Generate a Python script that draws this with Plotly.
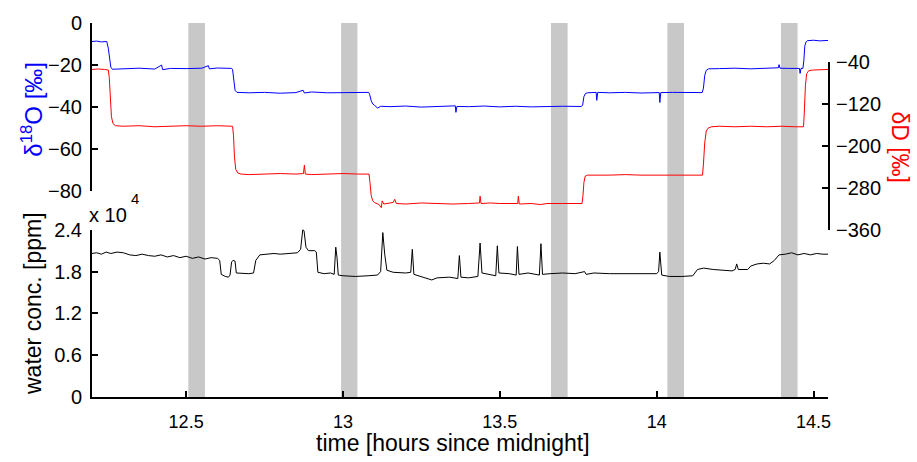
import plotly.graph_objects as go

# ---------------- data ----------------
t_o18 = [12.200, 12.215, 12.230, 12.247, 12.252, 12.256, 12.260, 12.265,
         12.30, 12.35, 12.40, 12.422, 12.425, 12.45, 12.50, 12.55, 12.571, 12.574, 12.60, 12.645,
         12.648, 12.652, 12.656, 12.662,
         12.70, 12.75, 12.80, 12.85, 12.873, 12.877, 12.90, 12.95, 13.00, 13.05, 13.082,
         13.085, 13.090, 13.095, 13.100, 13.110, 13.120,
         13.15, 13.20, 13.25, 13.30, 13.358, 13.360, 13.363, 13.40, 13.45, 13.50, 13.55, 13.60, 13.65, 13.70, 13.760,
         13.764, 13.768, 13.773, 13.780,
         13.807, 13.809, 13.812, 13.85, 13.90, 13.95, 14.008, 14.010, 14.013, 14.05, 14.10, 14.145,
         14.149, 14.153, 14.158, 14.165,
         14.20, 14.25, 14.30, 14.35, 14.388, 14.390, 14.393, 14.42, 14.455, 14.457, 14.460, 14.466,
         14.469, 14.472, 14.476, 14.480,
         14.50, 14.52, 14.546]
d18o = [-8.8, -8.6, -9.0, -8.8, -12.0, -18.0, -21.0, -22.0,
        -21.8, -21.5, -21.9, -20.0, -22.2, -21.6, -21.7, -21.5, -20.3, -21.8, -21.4, -21.6,
        -22.0, -28.0, -32.0, -33.0,
        -33.2, -33.0, -33.4, -33.1, -32.0, -33.3, -32.8, -33.2, -33.0, -33.1, -33.0,
        -34.0, -37.0, -38.5, -39.0, -40.5, -39.6,
        -39.8, -39.5, -40.0, -39.6, -39.4, -42.5, -39.7, -39.8, -39.5, -39.9, -39.6, -39.9, -39.7, -39.6, -39.7,
        -39.0, -35.0, -33.5, -33.2,
        -33.0, -36.8, -33.0, -33.2, -33.0, -33.3, -33.1, -37.8, -33.1, -33.0, -33.2, -33.1,
        -31.0, -25.0, -22.5, -21.8,
        -21.7, -21.5, -21.8, -21.4, -21.3, -19.8, -21.5, -21.6, -21.6, -24.0, -21.6, -21.6,
        -18.0, -11.0, -9.0, -8.4,
        -8.2, -8.5, -8.3]

t_dD = [12.200, 12.220, 12.240, 12.252, 12.255, 12.258, 12.262, 12.267, 12.275,
        12.30, 12.35, 12.40, 12.45, 12.50, 12.55, 12.60, 12.648,
        12.651, 12.654, 12.658, 12.665, 12.675,
        12.70, 12.75, 12.80, 12.85, 12.874, 12.877, 12.880, 12.90, 12.95, 13.00, 13.05, 13.083,
        13.086, 13.090, 13.095, 13.100, 13.115, 13.122, 13.125, 13.130,
        13.160, 13.165, 13.170, 13.20, 13.25, 13.30, 13.35, 13.40, 13.435, 13.437, 13.440, 13.47, 13.50,
        13.557, 13.559, 13.562, 13.60, 13.63, 13.65, 13.70, 13.762,
        13.765, 13.768, 13.772, 13.780,
        13.85, 13.90, 13.95, 14.00, 14.05, 14.10, 14.146,
        14.149, 14.153, 14.158, 14.165, 14.175,
        14.20, 14.25, 14.30, 14.35, 14.40, 14.44, 14.468,
        14.471, 14.474, 14.478, 14.485,
        14.50, 14.546]
dD = [-55, -54, -55, -56, -70, -110, -145, -158, -162,
      -163, -162, -164, -163, -162, -163, -162, -163,
      -180, -220, -245, -252, -254,
      -255, -254, -253, -254, -253, -237, -254, -255, -254, -253, -254, -254,
      -270, -295, -305, -308, -312, -318, -305, -311,
      -308, -302, -310, -311, -309, -310, -311, -310, -309, -296, -310, -309, -310,
      -310, -296, -311, -310, -312, -310, -310, -310,
      -295, -270, -258, -256,
      -256, -255, -256, -256, -255, -256, -256,
      -235, -195, -172, -166, -164,
      -163, -164, -163, -164, -163, -164, -164,
      -130, -85, -63, -57,
      -56, -55]

t_w = [12.200, 12.215, 12.230, 12.245, 12.26, 12.28, 12.30, 12.32, 12.34, 12.36, 12.38, 12.40,
       12.42, 12.44, 12.46, 12.48, 12.50, 12.52, 12.54, 12.56, 12.58, 12.600, 12.607, 12.612,
       12.625, 12.635, 12.640, 12.645, 12.650, 12.656, 12.660, 12.68, 12.70, 12.715, 12.722,
       12.735, 12.75, 12.78, 12.80, 12.83, 12.855, 12.865, 12.872, 12.876, 12.882, 12.89, 12.91,
       12.915, 12.920, 12.94, 12.96, 12.972, 12.977, 12.981, 12.985, 13.00, 13.04, 13.08, 13.11,
       13.120, 13.127, 13.133, 13.14, 13.16, 13.20, 13.216, 13.221, 13.226, 13.25, 13.283, 13.30,
       13.34, 13.366, 13.371, 13.376, 13.40, 13.43, 13.437, 13.443, 13.47, 13.487, 13.492, 13.497,
       13.53, 13.552, 13.556, 13.561, 13.59, 13.626, 13.631, 13.636, 13.66, 13.70, 13.74, 13.77,
       13.775, 13.80, 13.85, 13.90, 13.95, 14.00, 14.006, 14.010, 14.016, 14.04, 14.08, 14.115,
       14.13, 14.15, 14.18, 14.21, 14.24, 14.250, 14.255, 14.260, 14.29, 14.30, 14.32, 14.34,
       14.36, 14.375, 14.39, 14.41, 14.43, 14.45, 14.47, 14.49, 14.51, 14.53, 14.546]
water = [20600, 20700, 20500, 20800, 20600, 20800, 20700, 20400, 20300, 20500, 20300, 20200,
         20400, 20100, 20300, 20000, 20200, 19900, 20100, 19800, 20000, 19900, 19600, 17600,
         17300, 17200, 17500, 19400, 19600, 19500, 17800, 17700, 17700, 17800, 19600,
         20400, 20500, 20600, 20500, 20600, 20700, 21200, 24100, 23800, 21500, 21000, 21000,
         20800, 17900, 17700, 17800, 17600, 21500, 20000, 17500, 17400, 17300, 17400, 17500,
         18000, 23600, 20500, 18200, 17900, 17800, 17900, 21200, 17600, 17300, 16800, 17100,
         17200, 17000, 20300, 17200, 17100, 17300, 22100, 17800, 17600, 17400, 21700, 17800,
         17700, 17500, 21600, 17600, 17800, 17500, 22000, 17600, 17700, 17800, 17700, 18000,
         17600, 17800, 17700, 17700, 17700, 17700, 18000, 20800, 17500, 17300, 17300, 17400,
         18300, 18500, 18300, 18200, 18100, 18300, 19100, 18300, 18300, 18800, 19100, 19200,
         19100, 19600, 20400, 20500, 20700, 20400, 20600, 20400, 20600, 20500, 20500]

band_start = [12.507, 12.994, 13.663, 14.034, 14.396]
band_end = [12.560, 13.046, 13.716, 14.087, 14.449]

x_ticks = [12.5, 13, 13.5, 14, 14.5]
x_ticktext = ["12.5", "13", "13.5", "14", "14.5"]
o18_ticks = [0, -20, -40, -60, -80]
dD_ticks = [-40, -120, -200, -280, -360]
w_ticks = [0, 6000, 12000, 18000, 24000]
w_ticktext = ["0", "0.6", "1.2", "1.8", "2.4"]

# ---------------- figure ----------------
FONT = "Liberation Sans, Arial, sans-serif"
fig = go.Figure()

for s, e in zip(band_start, band_end):
    fig.add_shape(type="rect", xref="x", yref="paper", x0=s, x1=e, y0=0, y1=1,
                  fillcolor="#c8c8c8", line=dict(width=0), layer="below")

fig.add_trace(go.Scatter(x=t_dD, y=dD, mode="lines", line=dict(color="#ff0000", width=1),
                         xaxis="x", yaxis="y2", showlegend=False))
fig.add_trace(go.Scatter(x=t_o18, y=d18o, mode="lines", line=dict(color="#0000ff", width=1),
                         xaxis="x", yaxis="y", showlegend=False))
fig.add_trace(go.Scatter(x=t_w, y=water, mode="lines", line=dict(color="#000000", width=1),
                         xaxis="x", yaxis="y3", showlegend=False))

ax_common = dict(showgrid=False, zeroline=False, showline=True, linecolor="black", linewidth=2,
                 ticks="inside", ticklen=6, tickwidth=1.5, tickcolor="black")
yfont = dict(family=FONT, size=20, color="black")
xfont = dict(family=FONT, size=18, color="black")

fig.update_layout(
    width=917, height=462,
    margin=dict(l=92, r=89, t=19, b=65),
    paper_bgcolor="white", plot_bgcolor="rgba(0,0,0,0)",
    font=dict(family=FONT, size=19, color="black"),
    xaxis=dict(domain=[0, 1], range=[12.2, 14.546], anchor="y3", tickfont=xfont,
               tickvals=x_ticks, ticktext=x_ticktext, ticklabelstandoff=7, **ax_common),
    yaxis=dict(domain=[0.5503, 1], range=[-80, 0], anchor="x", side="left", tickfont=yfont,
               tickvals=o18_ticks, ticklabelstandoff=4, **ax_common),
    yaxis2=dict(domain=[0.4471, 0.8968], range=[-360, -40], anchor="x", side="right", tickfont=yfont,
                tickvals=dD_ticks, ticklabelstandoff=2, **ax_common),
    yaxis3=dict(domain=[0, 0.4471], range=[0, 24000], anchor="x", side="left", tickfont=yfont,
                tickvals=w_ticks, ticktext=w_ticktext, ticklabelstandoff=4, **ax_common),
)

fig.add_annotation(text="δ<sup>18</sup>O [‰]", xref="paper", yref="paper", x=-0.082, y=0.77,
                   showarrow=False, textangle=-90, xanchor="center", yanchor="middle",
                   font=dict(family=FONT, size=24, color="#0000ff"))
fig.add_annotation(text="water conc. [ppm]", xref="paper", yref="paper", x=-0.080, y=0.249,
                   showarrow=False, textangle=-90, xanchor="center", yanchor="middle",
                   font=dict(family=FONT, size=23, color="black"))
fig.add_annotation(text="δD [‰]", xref="paper", yref="paper", x=1.098, y=0.667,
                   showarrow=False, textangle=90, xanchor="center", yanchor="middle",
                   font=dict(family=FONT, size=23, color="#ff0000"))
fig.add_annotation(text="x 10", xref="paper", yref="paper", x=-0.007, y=0.487,
                   showarrow=False, xanchor="left", yanchor="middle",
                   font=dict(family=FONT, size=20, color="black"))
fig.add_annotation(text="4", xref="paper", yref="paper", x=0.058, y=0.532,
                   showarrow=False, xanchor="center", yanchor="middle",
                   font=dict(family=FONT, size=15, color="black"))
fig.add_annotation(text="time [hours since midnight]", xref="paper", yref="paper", x=0.4905, y=-0.124,
                   showarrow=False, xanchor="center", yanchor="middle",
                   font=dict(family=FONT, size=23, color="black"))

fig.write_html("out.html")
